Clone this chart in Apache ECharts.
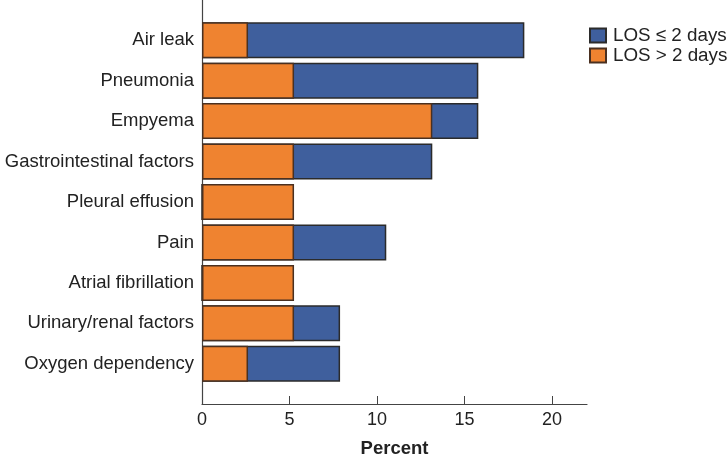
<!DOCTYPE html>
<html><head><meta charset="utf-8">
<script src="https://cdn.jsdelivr.net/npm/echarts@6/dist/echarts.min.js"></script>
<style>html,body{margin:0;padding:0;background:#fff}#c{width:727px;height:457px}</style>
</head><body><div id="c"></div>
<script>
var categories = ['Air leak','Pneumonia','Empyema','Gastrointestinal factors','Pleural effusion','Pain','Atrial fibrillation','Urinary/renal factors','Oxygen dependency'];
var losShort = [18.42, 15.79, 15.79, 13.16, 0, 10.53, 0, 7.89, 7.89];   // LOS ≤ 2 days
var losLong  = [2.63, 5.26, 13.16, 5.26, 5.26, 5.26, 5.26, 5.26, 2.63]; // LOS > 2 days
var xTicks = [0, 5, 10, 15, 20];

var font = 'Liberation Sans, Arial, Helvetica, sans-serif';
var chart = echarts.init(document.getElementById('c'), null, {renderer:'canvas'});
chart.setOption({
  animation: false,
  textStyle: {fontFamily: font},
  legend: {
    orient: 'vertical', left: 589, top: 26, itemWidth: 16, itemHeight: 14, itemGap: 1,
    padding: 0, icon: 'rect',
    textStyle: {fontSize: 18.8, color: '#222', fontFamily: font, padding: [0, 0, 0, 2]},
    data: ['LOS \u2264 2 days', 'LOS > 2 days']
  },
  grid: [
    {left: 202, right: 140, top: 20, bottom: 73, outerBoundsMode: 'none', containLabel: false},
    {left: 202, right: 140, top: 0, bottom: 53, outerBoundsMode: 'none', containLabel: false}
  ],
  xAxis: [
    {gridIndex: 0, type: 'value', min: 0, max: 22, show: false},
    {gridIndex: 1, type: 'value', min: 0, max: 22, interval: 5,
     axisLine: {show: true, lineStyle: {color: '#444', width: 1.2}},
     axisTick: {show: true, inside: true, length: 8, lineStyle: {color: '#444'}, customValues: xTicks},
     axisLabel: {fontSize: 18, color: '#222', margin: 7, fontFamily: font, customValues: xTicks},
     splitLine: {show: false},
     name: 'Percent', nameLocation: 'middle', nameGap: 35,
     nameTextStyle: {fontSize: 18.5, fontWeight: 'bold', color: '#222', fontFamily: font}}
  ],
  yAxis: [
    {gridIndex: 0, type: 'category', data: categories, inverse: true,
     axisLine: {show: false}, axisTick: {show: false},
     axisLabel: {fontSize: 18.5, color: '#222', margin: 8, fontFamily: font}},
    {gridIndex: 1, type: 'value', min: 0, max: 1,
     axisLine: {show: true, lineStyle: {color: '#444', width: 1.2}},
     axisTick: {show: false}, axisLabel: {show: false}, splitLine: {show: false}}
  ],
  series: [
    {name: 'LOS \u2264 2 days', type: 'bar', xAxisIndex: 0, yAxisIndex: 0, data: losShort,
     barCategoryGap: '11%', barGap: '-100%',
     itemStyle: {color: '#3f5f9d', borderColor: '#2b2b2b', borderWidth: 1.5}},
    {name: 'LOS > 2 days', type: 'bar', xAxisIndex: 0, yAxisIndex: 0, data: losLong,
     barCategoryGap: '11%', barGap: '-100%',
     itemStyle: {color: '#ef8330', borderColor: '#4a3020', borderWidth: 1.5}}
  ]
});
</script></body></html>
